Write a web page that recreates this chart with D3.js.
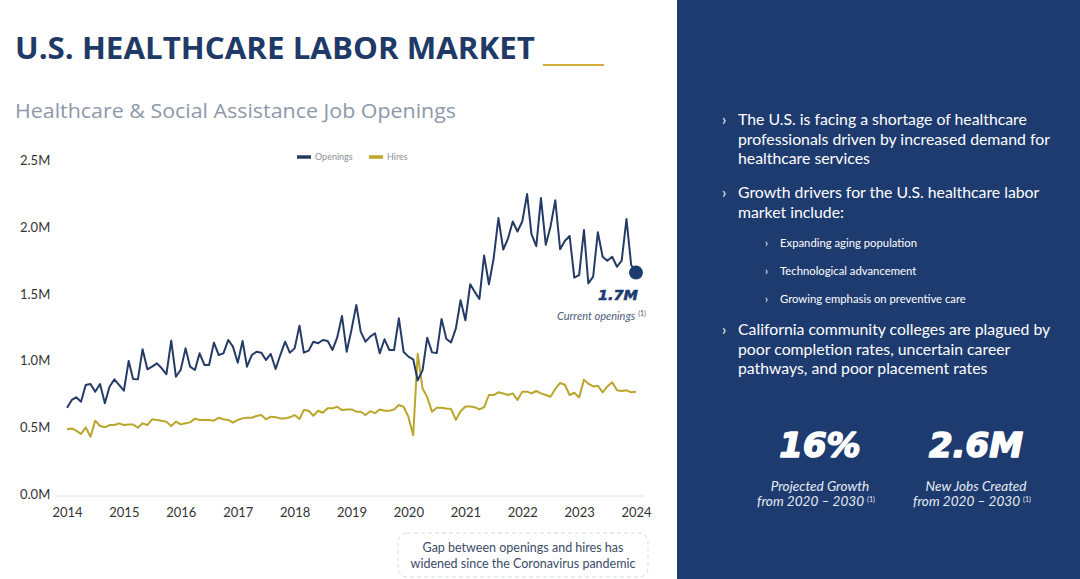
<!DOCTYPE html>
<html>
<head>
<meta charset="utf-8">
<script src="https://cdn.jsdelivr.net/npm/d3@7"></script>
<style>
  html, body { margin: 0; padding: 0; background: #fff; }
  svg { display: block; }
</style>
</head>
<body>
<svg id="chart" width="1080" height="579"></svg>
<script>
// ---------------- DATA ----------------
const startYear = 2014;
const yearLabels = ["2014","2015","2016","2017","2018","2019","2020","2021","2022","2023","2024"];
const yTickValues = [0, 0.5, 1.0, 1.5, 2.0, 2.5];
const seriesNames = ["Openings", "Hires"];

// Monthly job openings (millions), Jan 2014 – Jan 2024
const openings = [
  0.646,0.704,0.724,0.691,0.816,0.823,0.766,0.823,0.679,0.803,0.858,0.816,
  0.773,0.996,0.861,0.858,1.083,0.933,0.953,0.978,0.941,0.896,1.148,0.878,
  0.930,1.090,0.953,0.928,1.053,0.966,0.966,1.133,1.040,1.053,1.153,1.103,
  0.983,1.145,0.953,1.040,1.065,1.058,1.003,1.048,0.936,1.040,1.140,1.058,
  1.090,1.260,1.058,1.073,1.140,1.128,1.153,1.145,1.078,1.170,1.332,1.065,
  1.230,1.415,1.215,1.140,1.178,1.203,1.053,1.158,1.078,1.078,1.315,1.065,
  1.028,1.008,0.850,0.925,1.170,1.060,1.055,1.310,1.160,1.135,1.240,1.450,
  1.300,1.570,1.515,1.460,1.785,1.570,1.760,2.065,1.830,1.910,2.040,1.965,
  2.040,2.245,1.945,1.855,2.215,1.865,2.000,2.198,1.832,1.894,1.931,1.620,
  1.639,1.976,1.577,1.627,1.959,1.776,1.746,1.776,1.701,1.746,2.058,1.714,
  1.657
];
// Monthly hires (millions), Jan 2014 – Jan 2024
const hires = [
  0.484,0.491,0.474,0.449,0.499,0.429,0.549,0.509,0.499,0.516,0.516,0.529,
  0.516,0.521,0.521,0.496,0.529,0.516,0.559,0.554,0.549,0.541,0.509,0.541,
  0.521,0.529,0.536,0.564,0.554,0.554,0.554,0.549,0.571,0.559,0.554,0.534,
  0.554,0.566,0.571,0.571,0.584,0.591,0.559,0.579,0.574,0.566,0.566,0.574,
  0.591,0.561,0.628,0.623,0.586,0.623,0.608,0.641,0.641,0.653,0.628,0.633,
  0.633,0.616,0.616,0.591,0.620,0.605,0.633,0.623,0.623,0.633,0.666,0.653,
  0.579,0.440,1.050,0.790,0.725,0.615,0.645,0.645,0.640,0.636,0.555,0.620,
  0.655,0.655,0.650,0.633,0.650,0.741,0.741,0.761,0.753,0.741,0.753,0.704,
  0.766,0.766,0.753,0.771,0.753,0.741,0.728,0.786,0.831,0.818,0.741,0.758,
  0.723,0.856,0.826,0.805,0.811,0.761,0.805,0.836,0.776,0.771,0.776,0.761,
  0.765
];
const currentLabel = "1.7M";
const currentCaption = "Current openings";
const noteLines = ["Gap between openings and hires has", "widened since the Coronavirus pandemic"];
const bullets = [
  ["The U.S. is facing a shortage of healthcare", "professionals driven by increased demand for", "healthcare services"],
  ["Growth drivers for the U.S. healthcare labor", "market include:"]
];
const subBullets = ["Expanding aging population", "Technological advancement", "Growing emphasis on preventive care"];
const lastBullet = ["California community colleges are plagued by", "poor completion rates, uncertain career", "pathways, and poor placement rates"];
const stats = [
  {value: "16%", line1: "Projected Growth", line2: "from 2020 \u2013 2030"},
  {value: "2.6M", line1: "New Jobs Created", line2: "from 2020 \u2013 2030"}
];

// ---------------- STYLE ----------------
const NAVY = "#1e3b70";
const TITLE_NAVY = "#1f3a66";
const LINE_NAVY = "#253b66";
const GOLD = "#b9a62a";
const GOLD_RULE = "#d2ae3c";
const FONT = "Lato, 'Open Sans', sans-serif";
const HEAVY = "'DejaVu Sans', sans-serif";

const svg = d3.select("#chart");

// Right navy panel
svg.append("rect").attr("x", 677).attr("y", 0).attr("width", 403).attr("height", 579).attr("fill", NAVY);

// Title
svg.append("text").attr("x", 15).attr("y", 59)
  .attr("font-family", "'Open Sans', sans-serif").attr("font-weight", 700)
  .attr("font-size", 31).attr("fill", TITLE_NAVY)
  .attr("textLength", 520).attr("lengthAdjust", "spacingAndGlyphs")
  .text("U.S. HEALTHCARE LABOR MARKET");
svg.append("line").attr("x1", 543).attr("x2", 604).attr("y1", 65).attr("y2", 65)
  .attr("stroke", GOLD_RULE).attr("stroke-width", 2);

// Subtitle
svg.append("text").attr("x", 15).attr("y", 118)
  .attr("font-family", "'Open Sans', sans-serif").attr("font-size", 20)
  .attr("fill", "#8d98aa")
  .attr("textLength", 441).attr("lengthAdjust", "spacingAndGlyphs")
  .text("Healthcare & Social Assistance Job Openings");

// ---------------- SCALES ----------------
const dates = openings.map((_, i) => new Date(startYear, i, 1));
const x = d3.scaleTime()
  .domain([new Date(startYear, 0, 1), new Date(+yearLabels[yearLabels.length - 1], 0, 1)])
  .range([67, 636]);
const y = d3.scaleLinear().domain([0, 2.5]).range([494, 160]);

// Baseline rule
svg.append("line").attr("x1", x.range()[0] - 12).attr("x2", x.range()[1] + 8)
  .attr("y1", y(0) + 2).attr("y2", y(0) + 2).attr("stroke", "#dfe2e6").attr("stroke-width", 1);

// Y axis
const yAxis = svg.append("g").attr("transform", "translate(20,0)")
  .call(d3.axisRight(y).tickValues(yTickValues).tickSize(0).tickFormat(d => d.toFixed(1) + "M"));
yAxis.select(".domain").remove();
yAxis.selectAll("text").attr("x", 0).attr("dy", "0.35em")
  .attr("font-family", FONT).attr("font-size", 13).attr("fill", "#333");

// X axis
const xAxis = svg.append("g").attr("transform", `translate(0,${y(0) + 8})`)
  .call(d3.axisBottom(x).tickValues(yearLabels.map(yr => new Date(+yr, 0, 1)))
    .tickSize(0).tickFormat(d3.timeFormat("%Y")));
xAxis.select(".domain").remove();
xAxis.selectAll("text").attr("dy", "0.9em")
  .attr("font-family", FONT).attr("font-size", 13).attr("fill", "#333");

// Lines
const line = d3.line().x((d, i) => x(dates[i])).y(d => y(d)).curve(d3.curveLinear);
svg.append("path").datum(hires).attr("d", line)
  .attr("fill", "none").attr("stroke", GOLD).attr("stroke-width", 2).attr("stroke-linejoin", "round");
svg.append("path").datum(openings).attr("d", line)
  .attr("fill", "none").attr("stroke", LINE_NAVY).attr("stroke-width", 2).attr("stroke-linejoin", "round");

// Legend
const legend = svg.append("g").attr("font-family", FONT).attr("font-size", 9).attr("fill", "#8a8f98");
const legendItems = [{name: seriesNames[0], color: LINE_NAVY, x: 297}, {name: seriesNames[1], color: GOLD, x: 369}];
legendItems.forEach(it => {
  legend.append("line").attr("x1", it.x).attr("x2", it.x + 14).attr("y1", 157).attr("y2", 157)
    .attr("stroke", it.color).attr("stroke-width", 3.5);
  legend.append("text").attr("x", it.x + 18).attr("y", 160).text(it.name);
});

// Current openings annotation
const lastI = openings.length - 1;
svg.append("circle").attr("cx", x(dates[lastI])).attr("cy", y(openings[lastI])).attr("r", 7).attr("fill", NAVY);
svg.append("text").attr("x", x(dates[lastI]) + 2).attr("y", 300).attr("text-anchor", "end")
  .attr("font-family", HEAVY).attr("font-weight", 700).attr("font-style", "italic")
  .attr("font-size", 14.5).attr("fill", NAVY).attr("stroke", NAVY).attr("stroke-width", 0.6)
  .text(currentLabel);
const cap = svg.append("text").attr("x", 557).attr("y", 320)
  .attr("font-family", FONT).attr("font-style", "italic").attr("font-size", 11).attr("fill", "#4d5c7a");
cap.append("tspan").text(currentCaption);
cap.append("tspan").attr("dx", 3).attr("dy", -4).attr("font-size", 7).attr("font-style", "normal").text("(1)");

// Note box
svg.append("rect").attr("x", 398).attr("y", 533).attr("width", 250).attr("height", 44).attr("rx", 9)
  .attr("fill", "#fff").attr("stroke", "#d3d9e2").attr("stroke-width", 1).attr("stroke-dasharray", "4,3");
noteLines.forEach((t, i) => {
  svg.append("text").attr("x", 523).attr("y", 552 + i * 16).attr("text-anchor", "middle")
    .attr("font-family", FONT).attr("font-size", 12.5).attr("fill", "#3c4c6a").text(t);
});

// ---------------- RIGHT PANEL ----------------
const panel = svg.append("g").attr("font-family", FONT).attr("fill", "#fff");
function bullet(lines, y0, step) {
  panel.append("text").attr("x", 722).attr("y", y0).attr("font-size", 15).text("\u203A");
  lines.forEach((t, i) => panel.append("text").attr("x", 738).attr("y", y0 + i * step).attr("font-size", 15.8).text(t));
}
bullet(bullets[0], 125, 19.7);
bullet(bullets[1], 198, 19.5);
subBullets.forEach((t, i) => {
  panel.append("text").attr("x", 765).attr("y", 247 + i * 28).attr("font-size", 10.5).text("\u203A");
  panel.append("text").attr("x", 780).attr("y", 247 + i * 28).attr("font-size", 11.3).text(t);
});
bullet(lastBullet, 335, 19.7);

const statX = [820, 976];
stats.forEach((s, i) => {
  panel.append("text").attr("x", statX[i]).attr("y", 457).attr("text-anchor", "middle")
    .attr("font-family", HEAVY).attr("font-weight", 700).attr("font-style", "italic")
    .attr("font-size", 34).attr("stroke", "#fff").attr("stroke-width", 1.6)
    .attr("stroke-linejoin", "round").text(s.value);
  panel.append("text").attr("x", statX[i]).attr("y", 491).attr("text-anchor", "middle")
    .attr("font-style", "italic").attr("font-size", 13.6).attr("fill", "#e6ebf3").text(s.line1);
  const t2 = panel.append("text").attr("x", statX[i] - 4).attr("y", 506).attr("text-anchor", "middle")
    .attr("font-style", "italic").attr("font-size", 13.6).attr("fill", "#e6ebf3");
  t2.append("tspan").text(s.line2);
  t2.append("tspan").attr("dx", 3).attr("dy", -4).attr("font-size", 7).attr("font-style", "normal").text("(1)");
});
</script>
</body>
</html>
